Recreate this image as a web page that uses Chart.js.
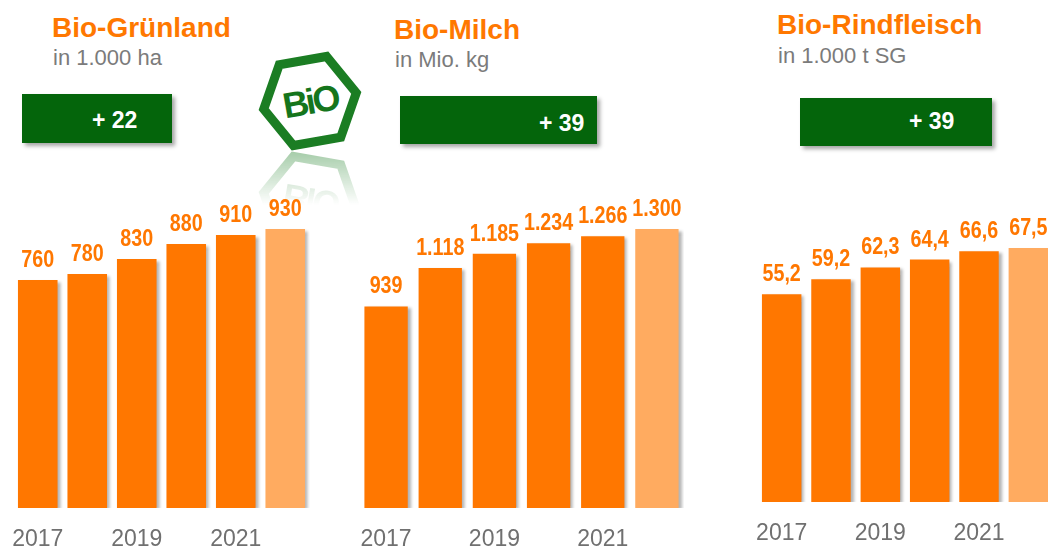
<!DOCTYPE html>
<html>
<head>
<meta charset="utf-8">
<script src="https://cdn.jsdelivr.net/npm/chart.js@4.4.0/dist/chart.umd.min.js"></script>
<style>
  html, body { margin: 0; padding: 0; background: #fff; }
  body { position: relative; width: 1048px; height: 552px; overflow: hidden; font-family: 'Liberation Sans', Arial, sans-serif; }
  canvas { position: absolute; top: 0; }
  .title { position: absolute; font-weight: bold; font-size: 28px; line-height: 28px; color: #ff7800; white-space: nowrap; }
  .unit { position: absolute; font-size: 22px; line-height: 22px; color: #7b7b7b; white-space: nowrap; }
  .box { position: absolute; background: #04650b; box-shadow: 3px 3px 4px rgba(0,0,0,0.35); }
  .box span { position: absolute; color: #fff; font-weight: bold; font-size: 23px; line-height: 23px; white-space: nowrap; }
  svg { position: absolute; }
</style>
</head>
<body>

<div class="title" style="left:52px; top:14px;">Bio-Grünland</div>
<div class="unit" style="left:53px; top:47px;">in 1.000 ha</div>
<div class="box" style="left:22px; top:94px; width:150px; height:49px;"><span style="left:70px; top:15px;">+ 22</span></div>

<div class="title" style="left:394px; top:16px;">Bio-Milch</div>
<div class="unit" style="left:395px; top:49px;">in Mio. kg</div>
<div class="box" style="left:400px; top:96px; width:197px; height:48px;"><span style="left:139px; top:16px;">+ 39</span></div>

<div class="title" style="left:777px; top:11px;">Bio-Rindfleisch</div>
<div class="unit" style="left:778px; top:45px;">in 1.000 t SG</div>
<div class="box" style="left:800px; top:98px; width:192px; height:48px;"><span style="left:109px; top:12px;">+ 39</span></div>

<svg width="130" height="175" viewBox="245 40 130 175" style="left:245px; top:40px;">
  <defs>
    <linearGradient id="fadeGrad" gradientUnits="userSpaceOnUse" x1="0" y1="150" x2="0" y2="205">
      <stop offset="0" stop-color="#fff" stop-opacity="0.5"/>
      <stop offset="1" stop-color="#fff" stop-opacity="0"/>
    </linearGradient>
    <mask id="fade" maskUnits="userSpaceOnUse" x="245" y="40" width="130" height="175">
      <rect x="245" y="148" width="130" height="67" fill="url(#fadeGrad)"/>
    </mask>
    <g id="logo" transform="rotate(-10 310 101)">
      <polygon points="357,101 334,60 286,60 263,101 286,142 334,142" fill="none" stroke="#1b7d23" stroke-width="9" stroke-linejoin="miter"/>
      <text x="310" y="114" text-anchor="middle" font-family="Liberation Sans, Arial, sans-serif" font-weight="bold" font-size="36" letter-spacing="-3" fill="#15751c">BiO</text>
    </g>
  </defs>
  <use href="#logo"/>
  <g mask="url(#fade)">
    <g transform="translate(0,302) scale(1,-1)">
      <use href="#logo" opacity="0.8"/>
    </g>
  </g>
</svg>

<canvas id="c1" width="297" height="552" style="left:13px;"></canvas>
<canvas id="c2" width="325" height="552" style="left:359px;"></canvas>
<canvas id="c3" width="296" height="552" style="left:757px;"></canvas>

<script>
const years = ['2017', '2018', '2019', '2020', '2021', '2022'];
const gruenland = [760, 780, 830, 880, 910, 930];
const milch = [939, 1118, 1185, 1234, 1266, 1300];
const rindfleisch = [55.2, 59.2, 62.3, 64.4, 66.6, 67.5];

const ORANGE = '#ff7700';
const ORANGE_LIGHT = '#ffab60';

Chart.defaults.font.family = "'Liberation Sans', Arial, sans-serif";

const barShadow = {
  id: 'barShadow',
  beforeDatasetsDraw(chart) {
    const c = chart.ctx;
    c.save();
    c.shadowColor = 'rgba(0,0,0,0.3)';
    c.shadowOffsetX = 3;
    c.shadowOffsetY = 2;
    c.shadowBlur = 3;
  },
  afterDatasetsDraw(chart) {
    chart.ctx.restore();
  }
};

// value labels above the bars, squeezed to look like a narrow bold face
const makeLabels = (fmt) => ({
  id: 'valueLabels',
  afterDatasetsDraw(chart) {
    const ctx = chart.ctx;
    const values = chart.data.datasets[0].data;
    chart.getDatasetMeta(0).data.forEach((bar, i) => {
      ctx.save();
      ctx.font = "bold 24px 'Liberation Sans', Arial, sans-serif";
      ctx.fillStyle = ORANGE;
      ctx.textAlign = 'center';
      ctx.textBaseline = 'alphabetic';
      ctx.translate(bar.x, bar.y - 13);
      ctx.scale(0.82, 1);
      ctx.fillText(fmt(values[i]), 0, 0);
      ctx.restore();
    });
  }
});

const fmtInt = (n) => n >= 1000 ? Math.floor(n / 1000) + '.' + String(n % 1000).padStart(3, '0') : String(n);
const fmtDec = (n) => n.toFixed(1).replace('.', ',');

const drawChart = (id, values, max, fmt, padBottom) => {
  new Chart(document.getElementById(id), {
    type: 'bar',
    data: {
      labels: years,
      datasets: [{
        data: values,
        backgroundColor: values.map((v, i) => i === values.length - 1 ? ORANGE_LIGHT : ORANGE),
        borderWidth: 0,
        categoryPercentage: 1,
        barPercentage: 0.8
      }]
    },
    options: {
      responsive: false,
      animation: false,
      layout: { padding: { top: 150, bottom: padBottom, left: 0, right: 0 } },
      plugins: { legend: { display: false }, tooltip: { enabled: false } },
      scales: {
        x: {
          grid: { display: false, drawTicks: false },
          border: { display: false },
          ticks: {
            autoSkip: false,
            maxRotation: 0,
            padding: 18,
            color: '#707070',
            font: { size: 23 },
            callback: (v, i) => i % 2 === 0 ? years[i] : ''
          },
          afterFit: (scale) => {
            scale.paddingLeft = 0;
            scale.paddingRight = 0;
            scale.height = 44;
          }
        },
        y: { display: false, min: 0, max: max }
      }
    },
    plugins: [barShadow, makeLabels(fmt)]
  });
};

drawChart('c1', gruenland, 1193, fmtInt, 0);
drawChart('c2', milch, 1668, fmtInt, 0);
drawChart('c3', rindfleisch, 93.5, fmtDec, 6);
</script>
</body>
</html>
